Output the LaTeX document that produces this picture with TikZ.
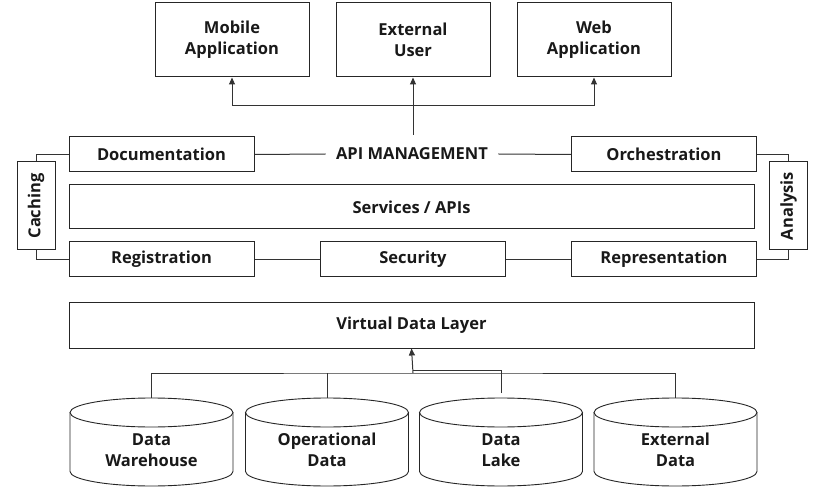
\documentclass[tikz,border=0pt]{standalone}
\usepackage{fontspec}
\setmainfont{Open Sans}
\usetikzlibrary{arrows.meta}
\begin{document}
\begin{tikzpicture}[x=1pt,y=1pt,
  line width=1pt,
  every node/.style={font=\bfseries\fontsize{16.5}{21}\selectfont, text=black!90},
  box/.style={draw=black!85, fill=white, minimum width=185pt, minimum height=35pt, inner sep=0pt, align=center},
  topbox/.style={box, minimum width=154pt, minimum height=74pt},
  widebox/.style={box, minimum width=685pt, minimum height=44pt},
  sidebox/.style={box, minimum width=38pt, minimum height=88pt},
  cyltext/.style={align=center, inner sep=0pt},
  conn/.style={draw=black!80, line width=1pt},
  arr/.style={conn, -{Triangle[length=7pt,width=6pt]}}
]
\fill[white] (0,0) rectangle (816,493);
\useasboundingbox (0,0) rectangle (816,493);

% top boxes
\node[topbox] (mobile) at (232,453) {Mobile\\Application};
\node[topbox] (extuser) at (413,453) {External\\User};
\node[topbox] (webapp) at (594,453) {Web\\Application};

% API management layer
\node[box] (doc) at (161.5,338.5) {Documentation};
\node[box] (orch) at (664,338.5) {Orchestration};
\node[inner xsep=10pt, inner ysep=2pt] (api) at (412,339) {API MANAGEMENT};
\node[widebox] (services) at (411.5,286) {Services / APIs};
\node[box] (reg) at (161.5,233.5) {Registration};
\node[box] (sec) at (413,233.5) {Security};
\node[box] (rep) at (664,233.5) {Representation};
\node[sidebox] (cache) at (36,287) {\rotatebox{90}{Caching}};
\node[sidebox] (ana) at (788.5,287) {\rotatebox{90}{Analysis}};

\draw[conn] (doc.east) -- (api.west);
\draw[conn] (api.east) -- (orch.west);
\draw[conn] (reg.east) -- (sec.west);
\draw[conn] (sec.east) -- (rep.west);
\draw[conn] (cache.north) |- (doc.west);
\draw[conn] (cache.south) |- (reg.west);
\draw[conn] (orch.east) -| (ana.north);
\draw[conn] (rep.east) -| (ana.south);

% arrows to top
\coordinate (apitop) at (413,358);
\coordinate (fork) at (413,387);
\draw[arr] (apitop) -- (extuser.south);
\draw[arr] (fork) -| (mobile.south);
\draw[arr] (fork) -| (webapp.south);

% virtual data layer
\node[box, minimum width=685pt, minimum height=45pt] (vdl) at (411.5,167.5) {Virtual Data Layer};

% cylinders
\foreach \cx/\nm in {151.5/dw, 327/od, 501/lk, 675.5/ed}{
  \draw[draw=black!85, line width=0.9pt] (\cx-81.5,80.5) -- (\cx-81.5,21.5)
     arc[start angle=180, end angle=360, x radius=81.5pt, y radius=14.5pt] -- (\cx+81.5,80.5);
  \draw[draw=black!85, line width=0.9pt] (\cx,80.5) ellipse [x radius=81.5pt, y radius=14.5pt];
  \coordinate (\nm T) at (\cx,95);
}
\node[cyltext] (dw) at (151.5,43) {Data\\Warehouse};
\node[cyltext] (od) at (327,43) {Operational\\Data};
\node[cyltext] (lk) at (501,43) {Data\\Lake};
\node[cyltext] (ed) at (675.5,43) {External\\Data};

\coordinate (hub) at (413,120);
\coordinate (lkhub) at (413,123);
\coordinate (lkend) at (501,100);
\draw[conn] (dwT) |- (hub) -| (edT);
\draw[conn] (odT) -- (odT |- hub);
\draw[conn] (lkend) |- (lkhub);
\draw[arr] (hub) -- (vdl.south);
\end{tikzpicture}
\end{document}
